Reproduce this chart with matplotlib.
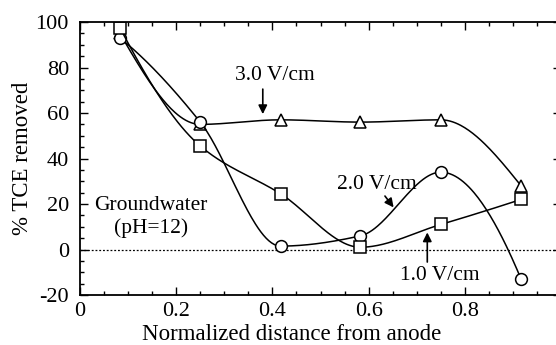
import numpy as np
import matplotlib
matplotlib.use("Agg")
import matplotlib.pyplot as plt
from matplotlib.ticker import MultipleLocator

plt.rcParams['font.family'] = ['Liberation Serif', 'DejaVu Serif']
plt.rcParams['axes.unicode_minus'] = False

# sampling positions along the cell and % removal for each field strength
distance = [0.083, 0.25, 0.417, 0.583, 0.75, 0.917]
removal_3v = [95, 55, 57, 56, 57, 28]
removal_2v = [93, 56, 1.5, 6, 34, -13]
removal_1v = [97.5, 45.5, 24.5, 1, 11, 22]

xticks = [0, 0.2, 0.4, 0.6, 0.8]
xticklabels = ['0', '0.2', '0.4', '0.6', '0.8']
yticks = [-20, 0, 20, 40, 60, 80, 100]


def pchip(x, y, n=300):
    # monotone cubic (Fritsch-Carlson) curve through the points
    x = np.asarray(x, float)
    y = np.asarray(y, float)
    h = np.diff(x)
    d = np.diff(y) / h
    m = np.zeros_like(y)
    for k in range(1, len(x) - 1):
        if d[k - 1] * d[k] > 0:
            w1 = 2 * h[k] + h[k - 1]
            w2 = h[k] + 2 * h[k - 1]
            m[k] = (w1 + w2) / (w1 / d[k - 1] + w2 / d[k])
    m[0] = ((2 * h[0] + h[1]) * d[0] - h[0] * d[1]) / (h[0] + h[1])
    if np.sign(m[0]) != np.sign(d[0]):
        m[0] = 0
    m[-1] = ((2 * h[-1] + h[-2]) * d[-1] - h[-1] * d[-2]) / (h[-1] + h[-2])
    if np.sign(m[-1]) != np.sign(d[-1]):
        m[-1] = 0
    xs = np.linspace(x[0], x[-1], n)
    idx = np.clip(np.searchsorted(x, xs) - 1, 0, len(x) - 2)
    t = (xs - x[idx]) / h[idx]
    h00 = 2 * t**3 - 3 * t**2 + 1
    h10 = t**3 - 2 * t**2 + t
    h01 = -2 * t**3 + 3 * t**2
    h11 = t**3 - t**2
    ys = (h00 * y[idx] + h10 * h[idx] * m[idx] + h01 * y[idx + 1]
          + h11 * h[idx] * m[idx + 1])
    return xs, ys


fig = plt.figure(figsize=(5.56, 3.45), dpi=100)
ax = fig.add_axes([0.1439, 0.1449, 0.8651, 0.7913])

ax.axhline(0, color='black', lw=0.9, ls=(0, (1.5, 1.5)))

for yy, mk in [(removal_3v, '^'), (removal_2v, 'o'), (removal_1v, 's')]:
    xs, ys = pchip(distance, yy)
    ax.plot(xs, ys, color='black', lw=1.1)
    ax.plot(distance, yy, ls='none', marker=mk, ms=8.5, mfc='white',
            mec='black', mew=1.1)

ax.set_xlim(0, 1)
ax.set_ylim(-20, 100)
ax.set_xticks(xticks)
ax.set_xticklabels(xticklabels)
ax.set_yticks(yticks)
ax.xaxis.set_minor_locator(MultipleLocator(0.05))
ax.yaxis.set_minor_locator(MultipleLocator(5))
ax.tick_params(which='both', direction='in', top=True, right=True,
               labelsize=16, width=1)
ax.tick_params(which='major', length=6)
ax.tick_params(which='minor', length=3)
ax.tick_params(axis='y', pad=8)
ax.tick_params(axis='x', pad=5)
for s in ax.spines.values():
    s.set_linewidth(1.3)

ax.set_xlabel('Normalized distance from anode', fontsize=16.5, labelpad=3)
ax.xaxis.set_label_coords(0.44, -0.105)
ax.set_ylabel('% TCE removed', fontsize=16.5, labelpad=2)

# labels and their pointer arrows
arrow = dict(arrowstyle='-|>', color='black', lw=1.2, mutation_scale=13,
             shrinkA=0, shrinkB=0)
ax.annotate('', xy=(0.38, 59.5), xytext=(0.38, 70.5), arrowprops=arrow)
ax.annotate('', xy=(0.652, 18.5), xytext=(0.634, 23.5), arrowprops=arrow)
ax.annotate('', xy=(0.722, 7.5), xytext=(0.722, -5.5), arrowprops=arrow)
ax.text(0.405, 76.5, '3.0 V/cm', fontsize=15.5, ha='center', va='center')
ax.text(0.617, 28.5, '2.0 V/cm', fontsize=15.5, ha='center', va='center')
ax.text(0.748, -11.5, '1.0 V/cm', fontsize=15.5, ha='center', va='center')
ax.text(0.148, 19.5, 'Groundwater', fontsize=15.5, ha='center', va='center')
ax.text(0.148, 9.3, '(pH=12)', fontsize=15.5, ha='center', va='center')

fig.savefig('out.png', dpi=100)
